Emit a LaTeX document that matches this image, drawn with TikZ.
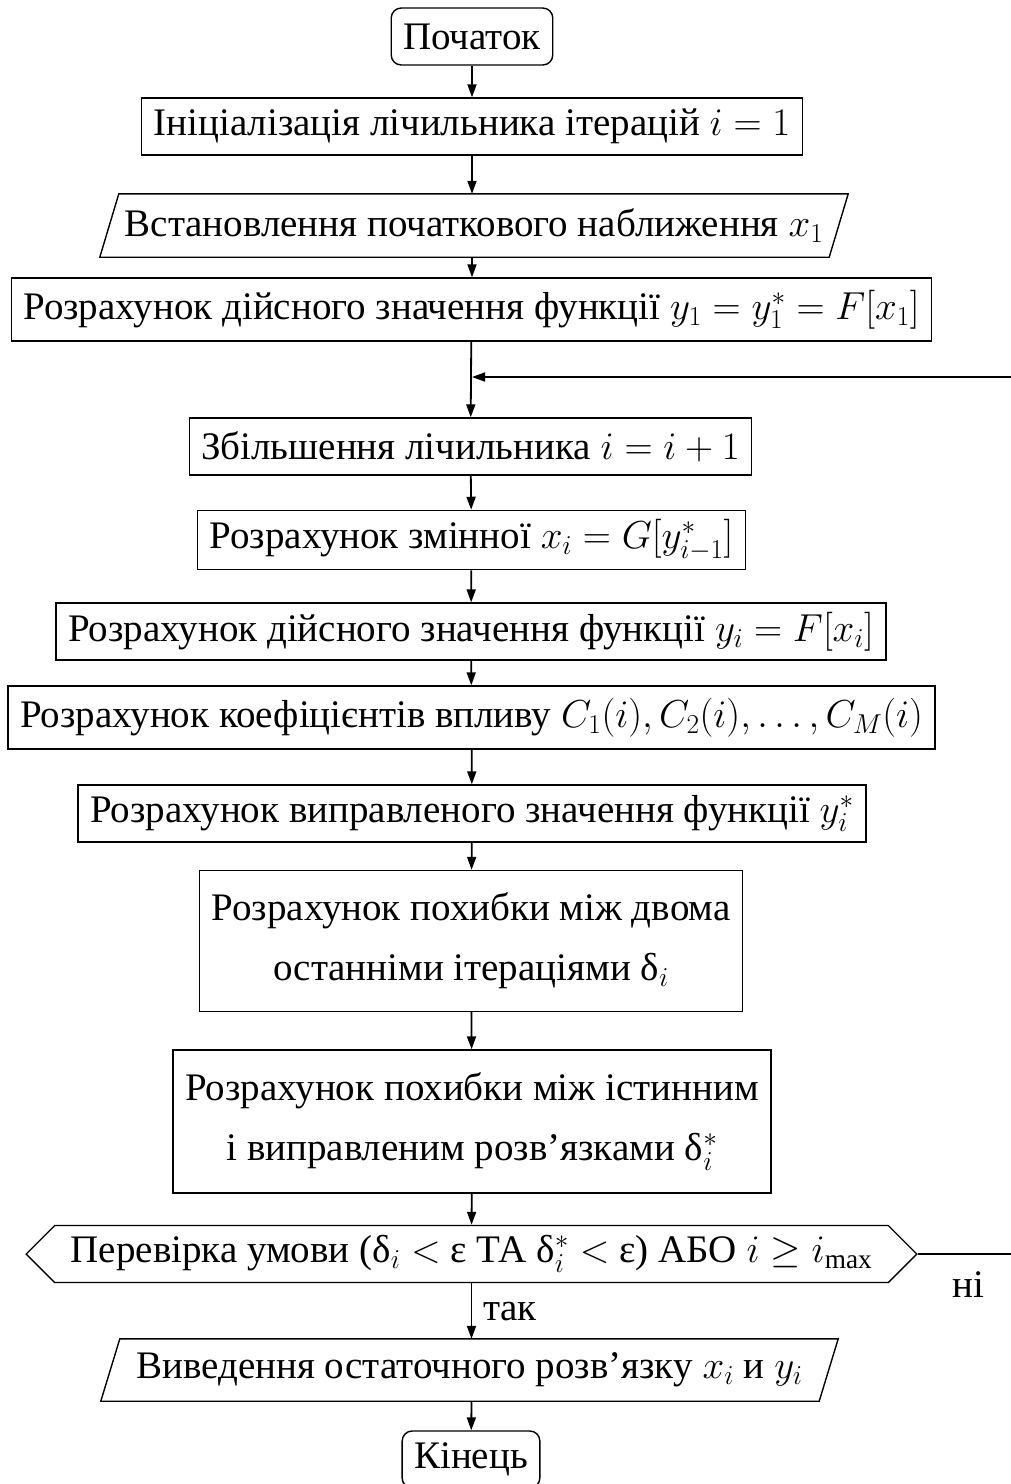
\RequirePackage{fix-cm}
\documentclass[tikz,border=0pt]{standalone}
\usepackage{fontspec}
\setmainfont{Liberation Serif}
\usetikzlibrary{arrows.meta,shapes.symbols}
\begin{document}
\begin{tikzpicture}[x=1pt,y=-1pt,
  font=\fontsize{39}{60}\selectfont,
  base/.style={draw, line width=1.4pt, inner xsep=12pt, inner ysep=9pt, minimum height=57pt, align=center},
  box/.style={base, rectangle},
  term/.style={base, rectangle, rounded corners=10pt},
  io/.style={rectangle, inner xsep=4pt, inner ysep=9pt, minimum height=63pt, align=center},
  ioline/.style={line width=1.4pt, line join=miter},
  dec/.style={base, signal, signal to=west and east, signal from=nowhere, signal pointer angle=90, inner xsep=16pt},
  arr/.style={line width=1.8pt, -{Triangle[length=13pt,width=9pt]}},
  lbl/.style={inner sep=0pt}]
\useasboundingbox (0,0) rectangle (1011,1484);
\clip (0,0) rectangle (1011,1484);
\node[term] (start) at (472,36.5) {Початок};
\node[box] (init) at (472,126.5) {Ініціалізація лічильника ітерацій $i=1$};
\node[io, minimum width=729pt] (set) at (474,225.5) {Встановлення початкового наближення $x_1$};
\draw[ioline] ([xshift=-9.5pt]set.south west) -- ([xshift=9.5pt]set.north west) -- ([xshift=9.5pt]set.north east) -- ([xshift=-9.5pt]set.south east) -- cycle;
\node[box, minimum height=63pt] (y1) at (471.5,309.5) {Розрахунок дійсного значення функції $y_1=y_1^*=F[x_1]$};
\coordinate (join) at (472,377);
\node[box] (inc) at (470.5,446.5) {Збільшення лічильника $i=i+1$};
\node[box] (var) at (471.5,540) {Розрахунок змінної $x_i=G[y_{i-1}^*]$};
\node[box] (yi) at (471,631.5) {Розрахунок дійсного значення функції $y_i=F[x_i]$};
\node[box, minimum height=63pt] (coef) at (471.5,717.5) {Розрахунок коефіцієнтів впливу $C_1(i),C_2(i),\ldots,C_M(i)$};
\node[box] (corr) at (472,813.5) {Розрахунок виправленого значення функції $y_i^*$};
\node[box, minimum height=141pt] (err1) at (471,941) {Розрахунок похибки між двома\\останніми ітераціями δ$_i$};
\node[box, minimum height=143pt] (err2) at (472,1121.5) {Розрахунок похибки між істинним\\і виправленим розв’язками δ$_i^*$};
\node[dec] (check) at (471.5,1254) {Перевірка умови (δ$_i<$ ε ТА δ$_i^*<$ ε) АБО $i\geq i_{\max}$};
\node[io, minimum width=718pt, minimum height=62pt] (out) at (469.5,1370) {Виведення остаточного розв’язку $x_i$ и $y_i$};
\draw[ioline] ([xshift=-9.5pt]out.south west) -- ([xshift=9.5pt]out.north west) -- ([xshift=9.5pt]out.north east) -- ([xshift=-9.5pt]out.south east) -- cycle;
\node[term] (end) at (471,1459.5) {Кінець};
\coordinate (rtop) at (1040,377);
\node[lbl] (no) at (968,1285) {ні};
\node[lbl] (yes) at (510,1312) {так};
\draw[arr] (start) -- (init);
\draw[arr] (init) -- (init.south |- set.north);
\draw[arr] (set.south -| init) -- (init |- y1.north);
\draw[arr] (y1) -- (inc);
\draw[arr] (inc) -- (var);
\draw[arr] (var) -- (yi);
\draw[arr] (yi) -- (coef);
\draw[arr] (coef) -- (corr);
\draw[arr] (corr) -- (err1);
\draw[arr] (err1) -- (err2);
\draw[arr] (err2) -- (check);
\draw[arr] (check.south) -- (check.south |- out.north);
\draw[arr] (out.south -| check) -- (end);
\draw[arr] (check.east) -- (check.east -| rtop) -- (rtop) -- (join);
\end{tikzpicture}
\end{document}
